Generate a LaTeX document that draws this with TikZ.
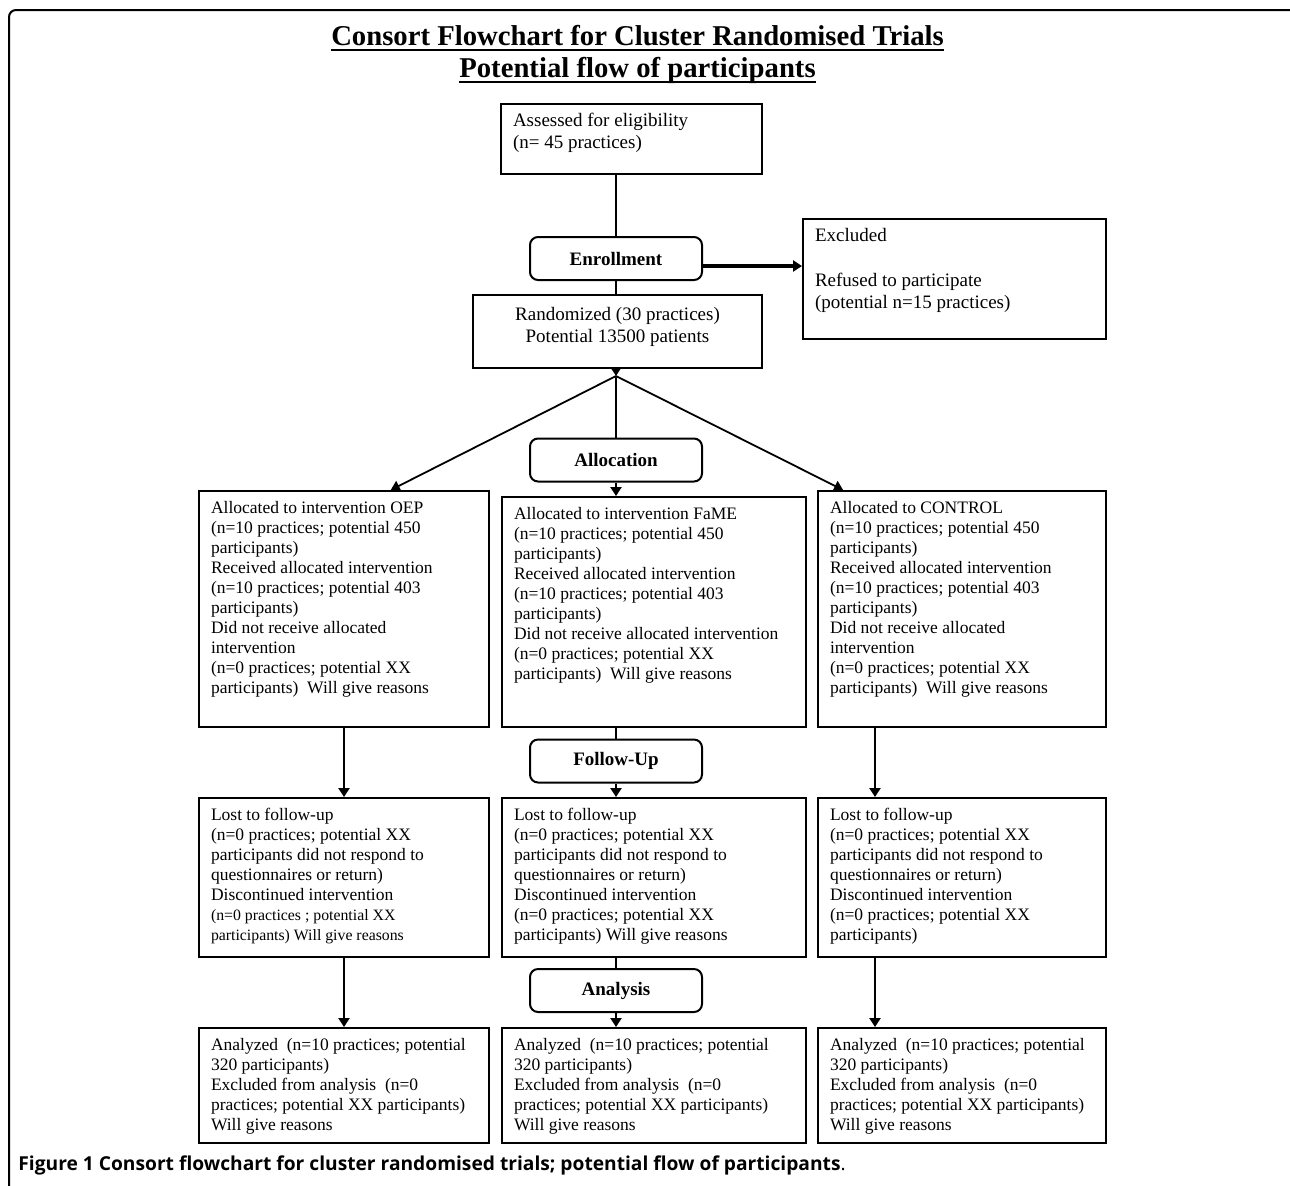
\documentclass[tikz,border=0pt]{standalone}
\usepackage{fontspec}
\setmainfont{Liberation Serif}
\newfontfamily\capfont{Open Sans}
\usetikzlibrary{arrows.meta,calc}
\newsavebox\ttlbox
\newcommand{\ttlul}[1]{\sbox\ttlbox{#1}\rlap{\rule[-2.75pt]{\wd\ttlbox}{1pt}}\usebox\ttlbox}
\newcommand{\flowtext}[4][\raggedright]{\parbox[c][#2][t]{#3}{#1\rule{0pt}{7pt}#4}}

\begin{document}
\begin{tikzpicture}[x=0.5pt,y=-0.5pt,
		box/.style={draw,line width=1pt,anchor=north west,inner xsep=6pt,inner ysep=4pt},
		topbox/.style={box,font=\fontsize{9.5}{11.25}\selectfont},
		lowbox/.style={box,font=\fontsize{8.75}{10}\selectfont},
		stage/.style={draw,line width=1pt,rounded corners=4pt,minimum width=86pt,minimum height=21.5pt,inner sep=0pt,font=\fontsize{9.5}{11}\selectfont\bfseries},
		link/.style={line width=1.2pt},
		arr/.style={line width=1.2pt,-{Triangle[width=5.5pt,length=4.5pt]}}]
			\useasboundingbox (0,0) rectangle (1290,1185);
			\begin{scope}
				\clip (0,0) rectangle (1290,1185);
				\draw [line width=1pt,rounded corners=3.5pt] (9,10) rectangle (1300,1200);
			\end{scope}

			\node [anchor=base,font=\fontsize{14.35}{16}\selectfont\bfseries](title) at (637.5,45) {\ttlul{Consort Flowchart for Cluster Randomised Trials}};
			\node [anchor=base,font=\fontsize{14.35}{16}\selectfont\bfseries](subtitle) at (637.5,77) {\ttlul{Potential flow of participants}};

			\coordinate (midcol) at (616,0);
			\coordinate (rcol) at (875,0);
			\coordinate (exrow) at (0,266);
			\coordinate (split) at (616,376);

			\node [topbox](assess) at (500,103) {\flowtext{27pt}{118.5pt}{Assessed for eligibility\\(n= 45 practices)}};
			\node [stage](enrol) at (616,258.5) {Enrollment};
			\node [topbox](excl) at (802,218) {\flowtext{52pt}{139.5pt}{Excluded\\[11.25pt]Refused to participate\\(potential n=15 practices)}};
			\node [topbox](rand) at (472,294) {\flowtext[\centering\vspace*{1.5pt}]{28.5pt}{132.5pt}{Randomized (30 practices)\\Potential 13500 patients}};

			\node [stage](alloc) at (616,460) {Allocation};
			\node [lowbox](oep) at (198,490) {\flowtext{110pt}{133pt}{Allocated to intervention OEP\\(n=10 practices; potential 450\\participants)\\Received allocated intervention\\(n=10 practices; potential 403\\participants)\\Did not receive allocated\\intervention\\(n=0 practices; potential XX\\participants)\ \ Will give reasons}};
			\node [lowbox](fame) at (501,496) {\flowtext{107pt}{140pt}{Allocated to intervention FaME\\(n=10 practices; potential 450\\participants)\\Received allocated intervention\\(n=10 practices; potential 403\\participants)\\Did not receive allocated intervention\\(n=0 practices; potential XX\\participants)\ \ Will give reasons}};
			\node [lowbox](ctrl) at (817,490) {\flowtext{110pt}{132pt}{Allocated to CONTROL\\(n=10 practices; potential 450\\participants)\\Received allocated intervention\\(n=10 practices; potential 403\\participants)\\Did not receive allocated\\intervention\\(n=0 practices; potential XX\\participants)\ \ Will give reasons}};

			\node [stage](fup) at (616,761) {Follow-Up};
			\node [lowbox](lostoep) at (198,797) {\flowtext{71.5pt}{133pt}{Lost to follow-up\\(n=0 practices; potential XX\\participants did not respond to\\questionnaires or return)\\Discontinued intervention\\{\fontsize{7.9}{10}\selectfont(n=0 practices ; potential XX\\participants) Will give reasons}}};
			\node [lowbox](lostfame) at (501,797) {\flowtext{71.5pt}{140pt}{Lost to follow-up\\(n=0 practices; potential XX\\participants did not respond to\\questionnaires or return)\\Discontinued intervention\\(n=0 practices; potential XX\\participants) Will give reasons}};
			\node [lowbox](lostctrl) at (817,797) {\flowtext{71.5pt}{132pt}{Lost to follow-up\\(n=0 practices; potential XX\\participants did not respond to\\questionnaires or return)\\Discontinued intervention\\(n=0 practices; potential XX\\participants)}};

			\node [stage](anal) at (616,990.5) {Analysis};
			\node [lowbox](anoep) at (198,1027) {\flowtext{49.5pt}{133pt}{Analyzed\ \ (n=10 practices; potential\\320 participants)\\Excluded from analysis\ \ (n=0\\practices; potential XX participants)\\Will give reasons}};
			\node [lowbox](anfame) at (501,1027) {\flowtext{49.5pt}{140pt}{Analyzed\ \ (n=10 practices; potential\\320 participants)\\Excluded from analysis\ \ (n=0\\practices; potential XX participants)\\Will give reasons}};
			\node [lowbox](anctrl) at (817,1027) {\flowtext{49.5pt}{132pt}{Analyzed\ \ (n=10 practices; potential\\320 participants)\\Excluded from analysis\ \ (n=0\\practices; potential XX participants)\\Will give reasons}};

			\node [anchor=base west,inner sep=0pt,font=\capfont\fontsize{9.6}{11}\selectfont](caption) at (18,1170) {\textbf{Figure 1 Consort flowchart for cluster randomised trials; potential flow of participants}.};

			\draw [link](assess.south -| midcol) -- (enrol);
			\draw [link](enrol) -- (rand.north -| midcol);
			\draw [arr,line width=2pt](enrol.east |- exrow) -- (excl.west |- exrow);
			\draw [arr](rand.south -| midcol) -- (split);

			\draw [arr,line width=0.9pt](split) -- ($(oep.north west)!0.66!(oep.north east)$);
			\draw [arr,line width=0.9pt](split) -- ($(ctrl.north west)!0.09!(ctrl.north east)$);
			\draw [link](split) -- (alloc);
			\draw [arr](alloc) -- (fame.north -| midcol);

			\draw [arr](oep) -- (lostoep);
			\draw [link](fame.south -| midcol) -- (fup);
			\draw [arr](fup) -- (lostfame.north -| midcol);
			\draw [arr](ctrl.south -| rcol) -- (lostctrl.north -| rcol);

			\draw [arr](lostoep) -- (anoep);
			\draw [link](lostfame.south -| midcol) -- (anal);
			\draw [arr](anal) -- (anfame.north -| midcol);
			\draw [arr](lostctrl.south -| rcol) -- (anctrl.north -| rcol);

		\end{tikzpicture}
\end{document}
